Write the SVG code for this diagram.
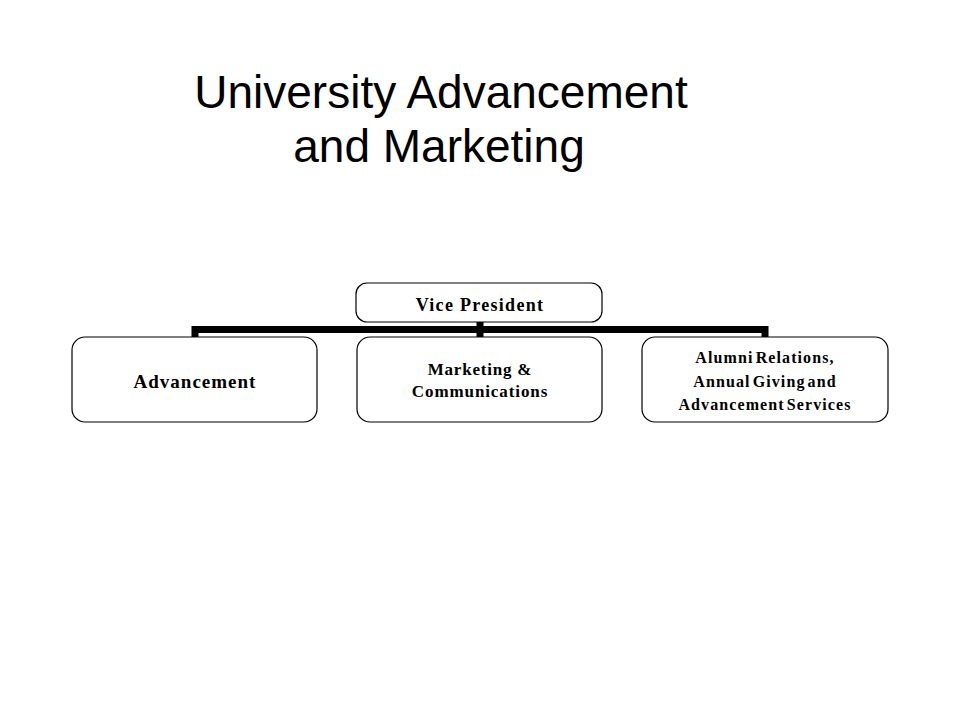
<svg xmlns="http://www.w3.org/2000/svg" width="960" height="720" viewBox="0 0 960 720">
<style>
.title{font-family:"Liberation Sans",Arial,sans-serif;font-size:46px;fill:#000;text-anchor:middle}
.box{fill:#fff;stroke:#000;stroke-width:1.2}
.lbl{font-family:"Liberation Serif","Times New Roman",serif;font-weight:bold;fill:#000;text-anchor:middle}
.conn{stroke:#000;stroke-width:7;fill:none}
</style>
<rect width="960" height="720" fill="#fff"/>
<g id="title">
<text class="title" x="441" y="108">University Advancement</text>
<text class="title" x="439" y="162">and Marketing</text>
</g>
<g id="connectors">
<path class="conn" d="M193 329.5H767"/>
<path class="conn" d="M480 322V337"/>
<path class="conn" d="M195 326V337"/>
<path class="conn" d="M765 326V337"/>
</g>
<g id="vp">
<rect class="box" x="356" y="283" width="246" height="39" rx="11"/>
<text class="lbl" x="480" y="310.5" font-size="18" letter-spacing="1.3">Vice President</text>
</g>
<g id="advancement">
<rect class="box" x="72" y="337" width="245" height="85" rx="13"/>
<text class="lbl" x="195" y="387.5" font-size="19" letter-spacing="1">Advancement</text>
</g>
<g id="marketing">
<rect class="box" x="357" y="337" width="245" height="85" rx="13"/>
<text class="lbl" x="480" y="375" font-size="17" letter-spacing="0.8">Marketing &amp;</text>
<text class="lbl" x="480" y="396.5" font-size="17" letter-spacing="0.9">Communications</text>
</g>
<g id="alumni">
<rect class="box" x="642" y="337" width="246" height="85" rx="13"/>
<text class="lbl" x="765" y="362.5" font-size="16" letter-spacing="1.1" word-spacing="-3">Alumni Relations,</text>
<text class="lbl" x="765" y="386.5" font-size="16" letter-spacing="1.1" word-spacing="-3">Annual Giving and</text>
<text class="lbl" x="765" y="410" font-size="16" letter-spacing="1.1" word-spacing="-3">Advancement Services</text>
</g>
</svg>
